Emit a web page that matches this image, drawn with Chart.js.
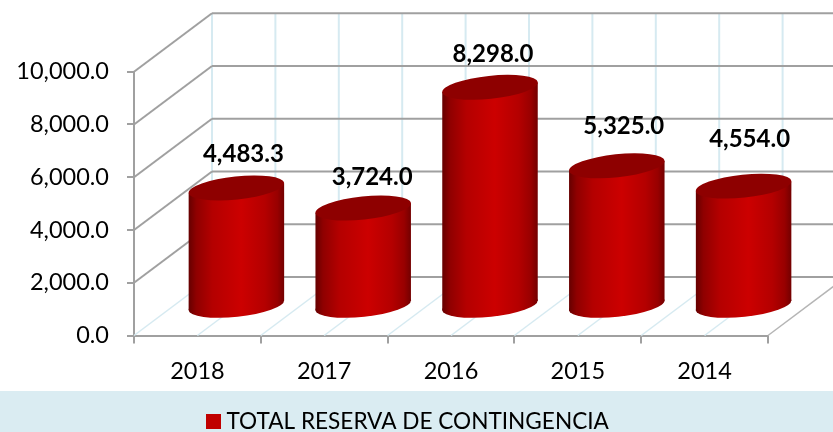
<!DOCTYPE html>
<html><head><meta charset="utf-8">
<style>html,body{margin:0;padding:0;background:#fff}canvas{display:block}</style>
<script src="https://cdn.jsdelivr.net/npm/chart.js@4"></script>
</head><body><canvas id="c" width="833" height="432"></canvas>
<script>
const categories = ['2018','2017','2016','2015','2014'];
const seriesName = 'TOTAL RESERVA DE CONTINGENCIA';
const reserva = [4483.3,3724.0,8298.0,5325.0,4554.0];
const labelNudgeX = [7,9,3,7,6];
const labelNudgeY = [-34,-31,-33,-40,-47];

const DEPTH_X=78, DEPTH_Y=58.5, FONT='Lato, sans-serif';
const GRAY='#a0a0a0', BLUE='#d6eaf1', BAND='#daecf2';
const fmt=v=>v.toLocaleString('en-US',{minimumFractionDigits:1,maximumFractionDigits:1});

function line(ctx,x1,y1,x2,y2,color,w){ctx.strokeStyle=color;ctx.lineWidth=w;ctx.beginPath();ctx.moveTo(x1,y1);ctx.lineTo(x2,y2);ctx.stroke();}

const swatch=document.createElement('canvas');swatch.width=15;swatch.height=15;
{const s=swatch.getContext('2d');s.fillStyle='#c00000';s.fillRect(0,0,15,15);}

const plugin3d={
  id:'plugin3d',
  afterLayout(chart){const l=chart.legend;l.left+=26;l.right+=26;l.top+=11;l.bottom+=11;},
  beforeDraw(chart){
    const c=chart.ctx;
    c.save();c.fillStyle='#fff';c.fillRect(0,0,chart.width,chart.height);
    c.fillStyle=BAND;c.fillRect(0,391,chart.width,chart.height-391);c.restore();
  },
  beforeDatasetsDraw(chart){
    const c=chart.ctx,{x,y}=chart.scales,a=chart.chartArea;
    const half=(x.getPixelForValue(1)-x.getPixelForValue(0))/2;
    c.save();
    const n=categories.length*2;
    for(let i=0;i<=n+2;i++){
      const fx=a.left+half*i;
      if(i<n) line(c,fx,a.bottom,fx+DEPTH_X,a.bottom-DEPTH_Y,BLUE,1.5);
      line(c,fx+DEPTH_X,a.top-DEPTH_Y,fx+DEPTH_X,a.bottom-DEPTH_Y,BLUE,2);
    }
    y.ticks.forEach(t=>{
      const py=y.getPixelForValue(t.value);
      if(t.value>0) line(c,a.left,py,a.left+DEPTH_X,py-DEPTH_Y,GRAY,2);
      line(c,a.left+DEPTH_X,py-DEPTH_Y,chart.width,py-DEPTH_Y,GRAY,2);
    });
    line(c,a.right,a.bottom,a.right+DEPTH_X,a.bottom-DEPTH_Y,'#b5b5b5',1.5);
    c.restore();
  },
  beforeDatasetDraw(chart,args){
    const c=chart.ctx,meta=args.meta;
    const rot=-6*Math.PI/180;
    meta.data.forEach(el=>{
      const r=el.width/2, ry=11.5;
      const cx=el.x+DEPTH_X/2;
      const yT=el.y-DEPTH_Y/2, yB=el.base-DEPTH_Y/2;
      const sn=Math.sin(rot),cs=Math.cos(rot);
      const X=Math.sqrt(r*r*cs*cs+ry*ry*sn*sn);
      const off=(r*r-ry*ry)*sn*cs/X;
      const g=c.createLinearGradient(cx-X,0,cx+X,0);
      g.addColorStop(0,'#660000');g.addColorStop(.08,'#8f0000');g.addColorStop(.25,'#b40000');
      g.addColorStop(.55,'#cc0000');g.addColorStop(.8,'#b40000');g.addColorStop(.93,'#980000');g.addColorStop(1,'#730000');
      c.save();
      c.fillStyle=g;
      c.beginPath();c.ellipse(cx,yB,r,ry,rot,0,Math.PI*2);c.fill();
      c.beginPath();
      c.moveTo(cx-X,yT-off);c.lineTo(cx+X,yT+off);c.lineTo(cx+X,yB+off);c.lineTo(cx-X,yB-off);c.closePath();c.fill();
      c.fillStyle='#8e0000';
      c.beginPath();c.ellipse(cx,yT,r,ry,rot,0,Math.PI*2);c.fill();
      c.restore();
    });
    return false;
  },
  afterDatasetsDraw(chart){
    const c=chart.ctx,meta=chart.getDatasetMeta(0);
    c.save();c.font='bold 24px '+FONT;c.fillStyle='#000';c.textAlign='center';c.textBaseline='middle';
    meta.data.forEach((el,i)=>{
      c.fillText(fmt(reserva[i]),el.x+DEPTH_X/2+labelNudgeX[i],el.y-DEPTH_Y/2+labelNudgeY[i]);
    });
    c.restore();
  }
};

new Chart(document.getElementById('c'),{
  type:'bar',
  data:{labels:categories,datasets:[{label:seriesName,data:reserva,backgroundColor:'#c00000',barPercentage:.757,categoryPercentage:1}]},
  plugins:[plugin3d],
  options:{
    responsive:false,animation:false,
    layout:{padding:{top:71.7,right:65,left:0,bottom:0}},
    plugins:{
      tooltip:{enabled:false},
      legend:{display:true,position:'bottom',labels:{usePointStyle:true,pointStyle:swatch,pointStyleWidth:4,boxHeight:15,padding:1,color:'#000',font:{family:FONT,size:22.6,lineHeight:1}}}
    },
    scales:{
      x:{
        afterFit(s){s.height=62.9;},
        grid:{offset:true,drawOnChartArea:false,color:GRAY,lineWidth:2,tickLength:8},
        border:{color:GRAY,width:2},
        ticks:{color:'#000',padding:14,font:{family:FONT,size:23.5},maxRotation:0}
      },
      y:{
        min:0,max:10000,
        afterFit(s){s.width=134;},
        grid:{drawOnChartArea:false,color:GRAY,lineWidth:2,tickLength:7},
        border:{color:GRAY,width:2},
        ticks:{stepSize:2000,color:'#000',padding:18,font:{family:FONT,size:23.5},callback:v=>fmt(v)}
      }
    }
  }
});
</script></body></html>
